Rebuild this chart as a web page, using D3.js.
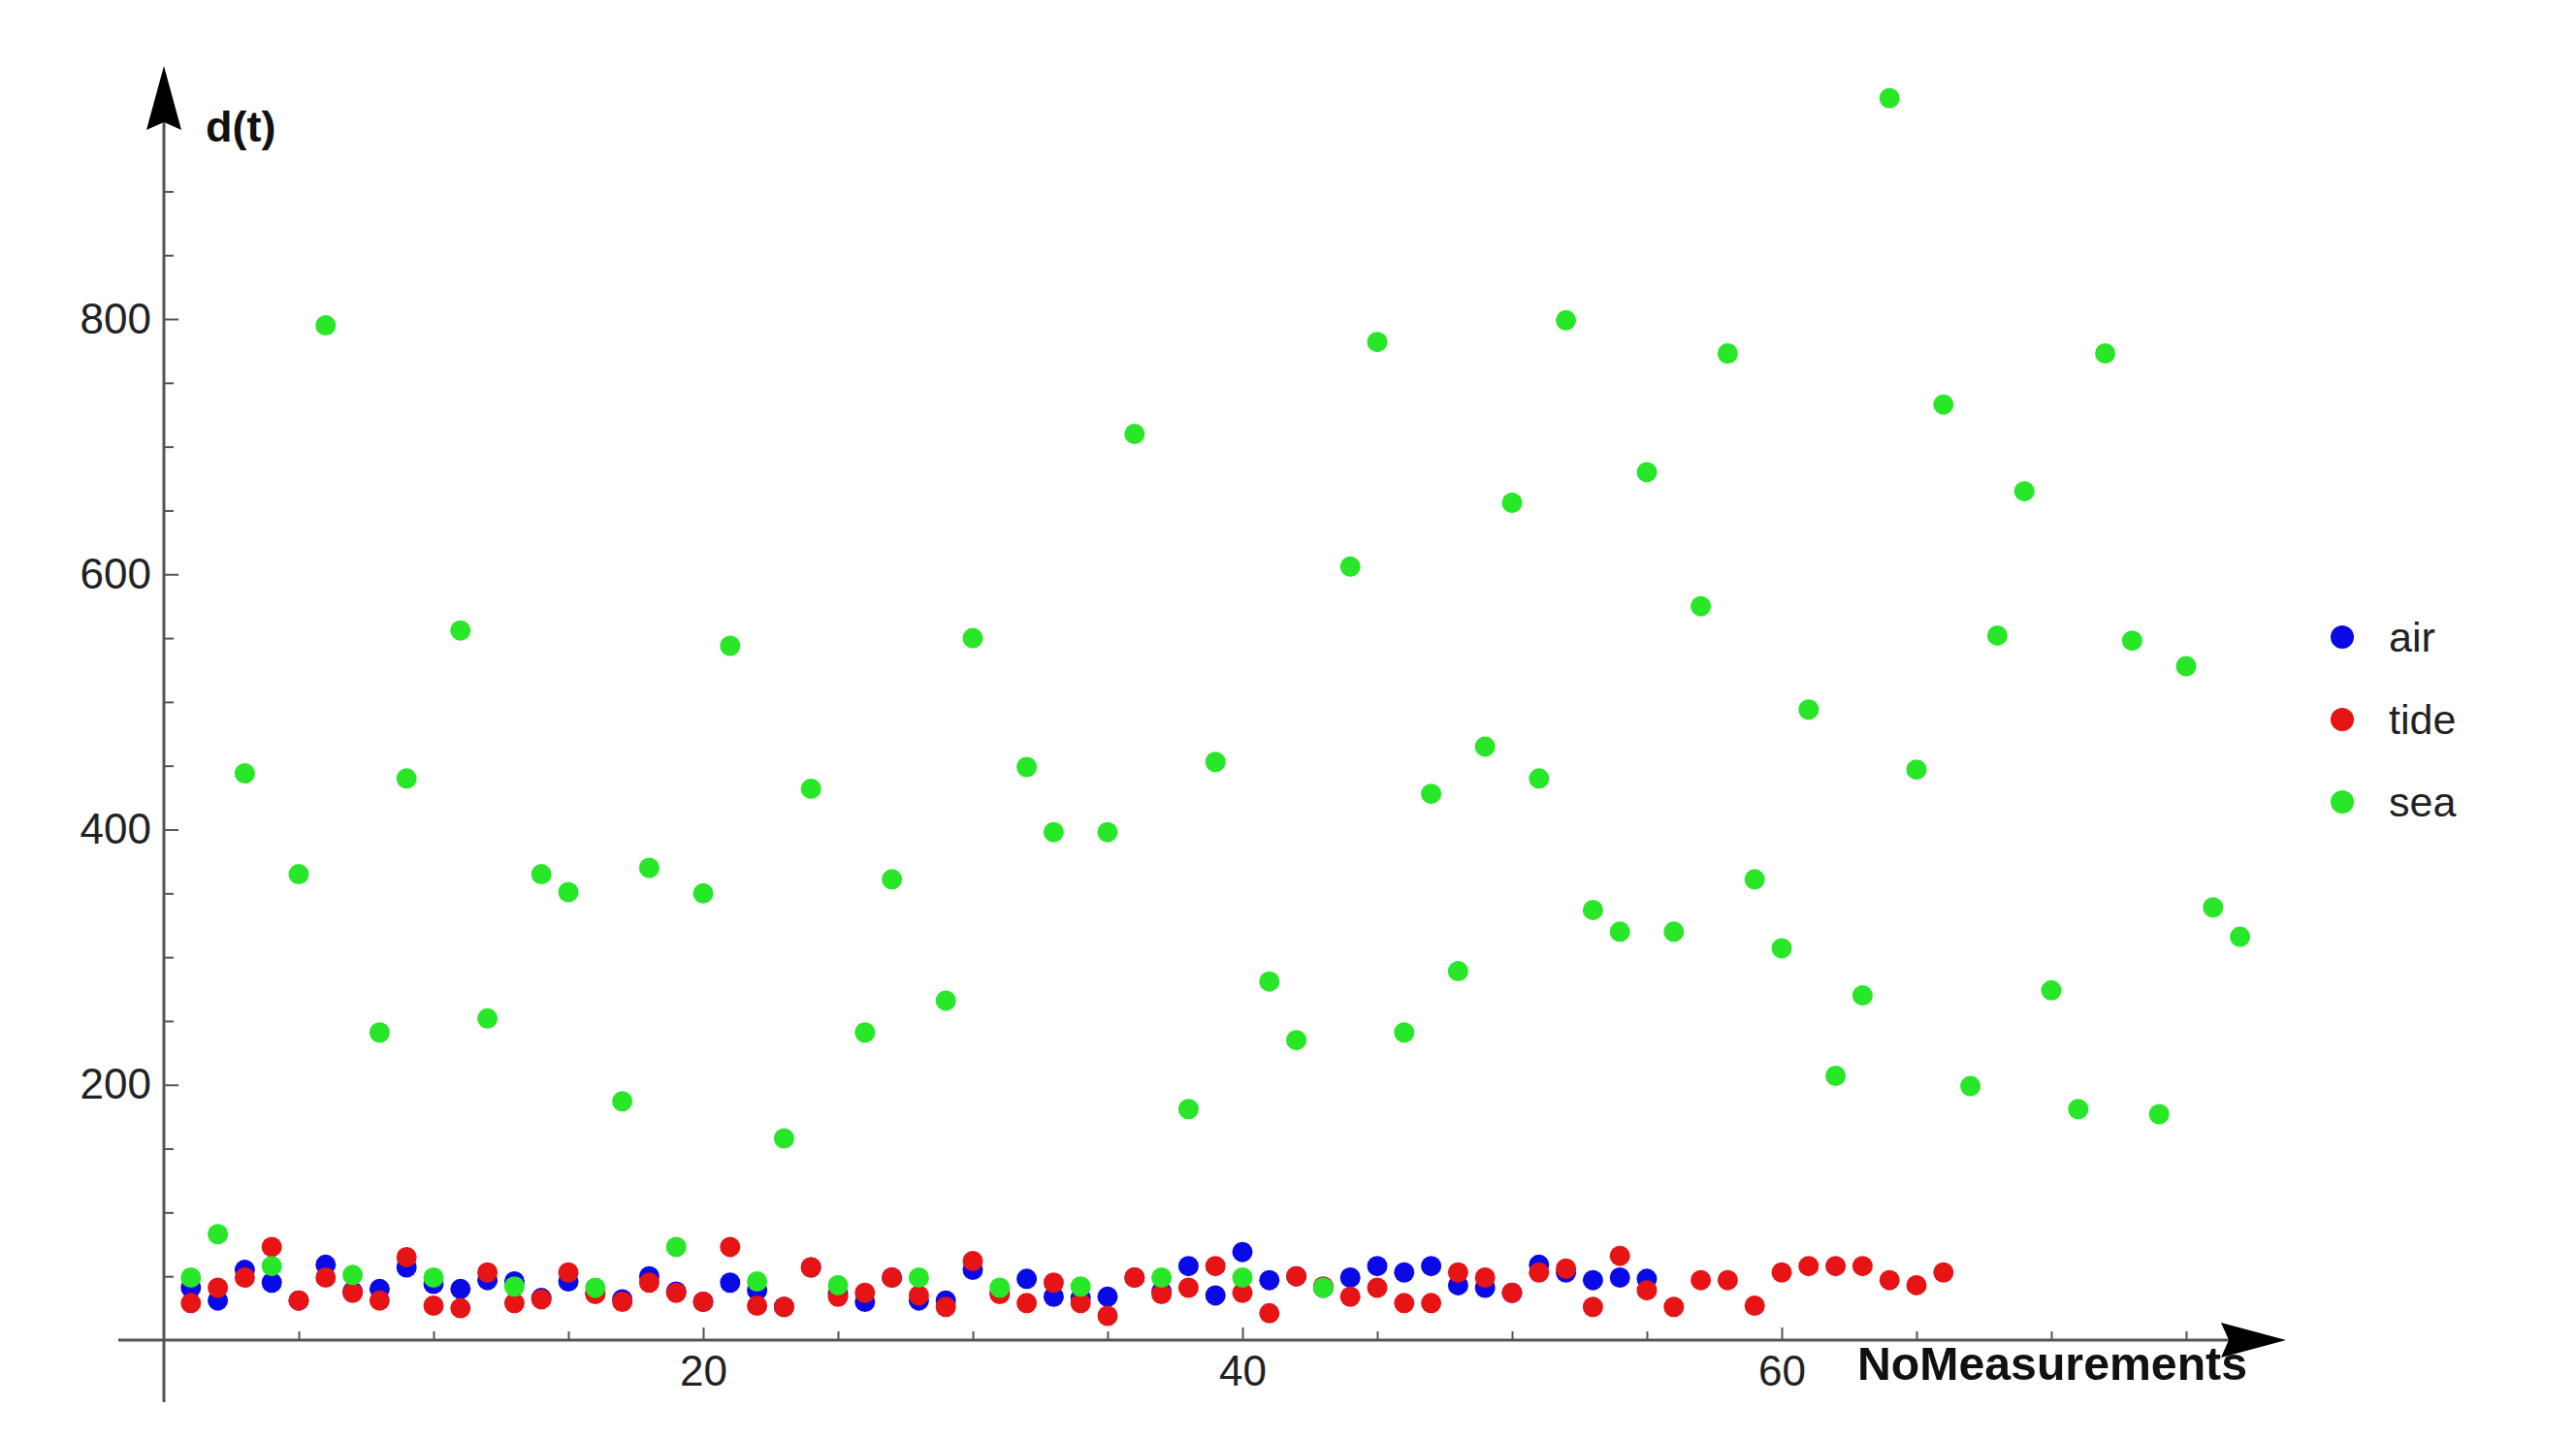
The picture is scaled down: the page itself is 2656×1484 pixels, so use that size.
<!DOCTYPE html>
<html>
<head>
<meta charset="utf-8">
<script src="https://cdn.jsdelivr.net/npm/d3@7"></script>
<style>
  html, body { margin: 0; padding: 0; background: #ffffff; }
  svg { display: block; }
</style>
</head>
<body>
<script>
// ---------- data ----------
const seriesNames = ["air", "tide", "sea"];
const seriesColors = ["#0a0ae6", "#e61414", "#28e628"];

const air = [41, 31, 55, 45, 31, 59, 38, 40, 57, 44,
             40, 47, 46, 33, 46, 37, 32, 50, 38, 30,
             45, 39, 26, 57, 36, 30, 49, 31, 31, 55,
             37, 48, 34, 33, 34, 49, 38, 58, 35, 69,
             47, 50, 41, 49, 58, 53, 58, 43, 41, 37,
             59, 53, 47, 49, 48];

const tide = [29, 41, 49, 73, 31, 49, 37, 31, 65, 27,
              25, 53, 29, 32, 53, 36, 30, 45, 37, 30,
              73, 27, 26, 57, 34, 37, 49, 35, 26, 62,
              36, 29, 45, 29, 19, 49, 36, 41, 58, 37,
              21, 50, 42, 34, 41, 29, 29, 53, 49, 37,
              53, 56, 26, 66, 39, 26, 47, 47, 27, 53,
              58, 58, 58, 47, 43, 53];

const sea = [49, 83, 444, 58, 365, 795, 51, 241, 440, 49,
             556, 252, 42, 365, 351, 41, 187, 370, 73, 350,
             544, 46, 158, 432, 43, 241, 361, 49, 266, 550,
             41, 449, 398, 42, 398, 710, 49, 181, 453, 49,
             281, 235, 41, 606, 782, 241, 428, 289, 465, 656,
             440, 799, 337, 320, 680, 320, 575, 773, 361, 307,
             494, 207, 270, 973, 447, 733, 199, 552, 665, 274,
             181, 773, 548, 177, 528, 339, 316];

const xMajorTicks = [20, 40, 60];
const xMinorTicks = [5, 10, 15, 25, 30, 35, 45, 50, 55, 65, 70, 75];
const yMajorTicks = [200, 400, 600, 800];
const yMinorTicks = [50, 100, 150, 250, 300, 350, 450, 500, 550, 650, 700, 750, 850, 900];
const xLabel = "NoMeasurements";
const yLabel = "d(t)";

// ---------- layout ----------
const W = 2656, H = 1484;
const svg = d3.select("body").append("svg").attr("width", W).attr("height", H);

const x = d3.scaleLinear().domain([0, 80]).range([169, 169 + 80 * 27.8]);
const y = d3.scaleLinear().domain([0, 800]).range([1382, 329]);

const axisColor = "#555";
const labelColor = "#222";
const font = "'Liberation Sans', Arial, sans-serif";

// axis lines
svg.append("line")
  .attr("x1", 122).attr("x2", 2300)
  .attr("y1", y(0)).attr("y2", y(0))
  .attr("stroke", axisColor).attr("stroke-width", 3);
svg.append("line")
  .attr("x1", x(0)).attr("x2", x(0))
  .attr("y1", 1446).attr("y2", 120)
  .attr("stroke", axisColor).attr("stroke-width", 3);

// arrows
const ax0 = x(0), ay0 = y(0);
svg.append("path")
  .attr("d", `M${2357},${ay0} L${2290},${ay0 - 18} L${2298},${ay0} L${2290},${ay0 + 18} Z`)
  .attr("fill", "#000");
svg.append("path")
  .attr("d", `M${ax0},${68} L${ax0 - 18},${134} L${ax0},${126} L${ax0 + 18},${134} Z`)
  .attr("fill", "#000");

// x axis ticks (pointing up into plot)
const xMajor = svg.append("g").attr("transform", `translate(0,${y(0)})`)
  .call(d3.axisBottom(x).tickValues(xMajorTicks).tickSize(-13).tickPadding(16).tickFormat(d3.format("d")));
const xMinor = svg.append("g").attr("transform", `translate(0,${y(0)})`)
  .call(d3.axisBottom(x).tickValues(xMinorTicks).tickSize(-9).tickFormat(""));
[xMajor, xMinor].forEach(g => {
  g.select(".domain").remove();
  g.selectAll("line").attr("stroke", axisColor).attr("stroke-width", 2);
});
xMajor.selectAll("text")
  .attr("font-family", font).attr("font-size", 44).attr("fill", labelColor)
  .attr("dy", "0.71em");

// y axis ticks (pointing right into plot)
const yMajor = svg.append("g").attr("transform", `translate(${x(0)},0)`)
  .call(d3.axisLeft(y).tickValues(yMajorTicks).tickSize(-15).tickPadding(13).tickFormat(d3.format("d")));
const yMinor = svg.append("g").attr("transform", `translate(${x(0)},0)`)
  .call(d3.axisLeft(y).tickValues(yMinorTicks).tickSize(-10).tickFormat(""));
[yMajor, yMinor].forEach(g => {
  g.select(".domain").remove();
  g.selectAll("line").attr("stroke", axisColor).attr("stroke-width", 2);
});
yMajor.selectAll("text")
  .attr("font-family", font).attr("font-size", 44).attr("fill", labelColor);

// axis labels
svg.append("text")
  .attr("x", 212).attr("y", 146)
  .attr("font-family", font).attr("font-weight", "bold").attr("font-size", 45)
  .attr("fill", "#111").text(yLabel);
svg.append("text")
  .attr("x", 1915).attr("y", 1423)
  .attr("font-family", font).attr("font-weight", "bold").attr("font-size", 49)
  .attr("textLength", 402).attr("lengthAdjust", "spacingAndGlyphs")
  .attr("fill", "#111").text(xLabel);

// points
const allSeries = [air, tide, sea];
allSeries.forEach((vals, si) => {
  svg.append("g").selectAll("circle")
    .data(vals.map((v, i) => ({ n: i + 1, v })))
    .join("circle")
    .attr("cx", d => x(d.n))
    .attr("cy", d => y(d.v))
    .attr("r", 10.5)
    .attr("fill", seriesColors[si]);
});

// legend
const legY = [657, 742, 827];
const leg = svg.append("g");
seriesNames.forEach((name, i) => {
  leg.append("circle").attr("cx", 2415).attr("cy", legY[i]).attr("r", 12).attr("fill", seriesColors[i]);
  leg.append("text").attr("x", 2463).attr("y", legY[i]).attr("dy", "0.35em")
    .attr("font-family", font).attr("font-size", 43).attr("fill", labelColor).text(name);
});
</script>
</body>
</html>
